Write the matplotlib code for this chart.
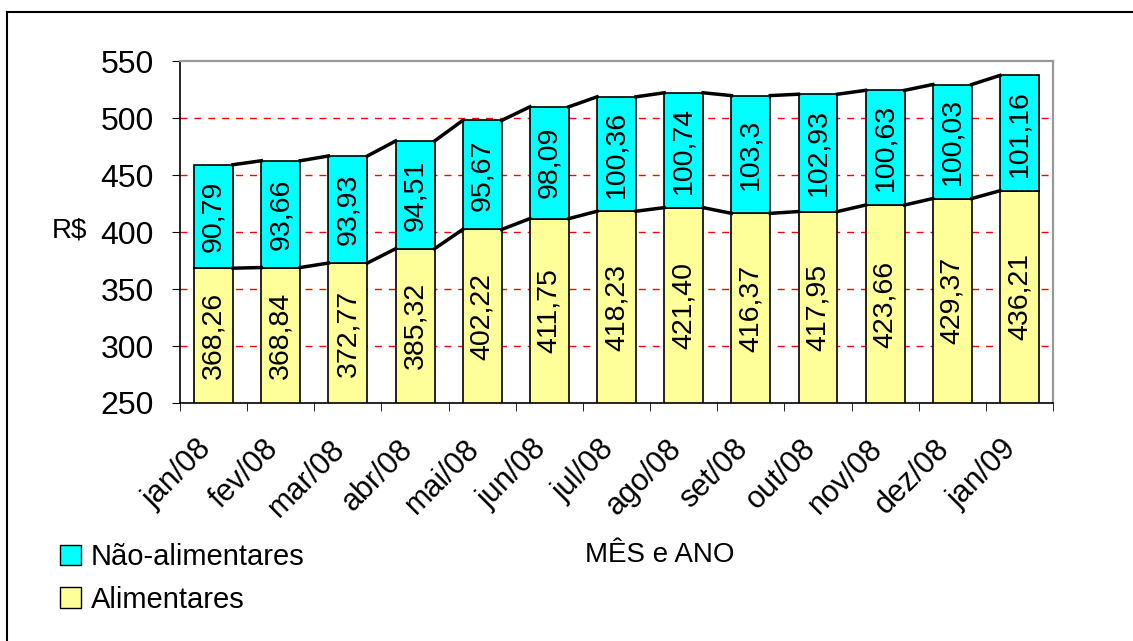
import numpy as np
import matplotlib.pyplot as plt
import matplotlib.transforms as mtransforms
from matplotlib.patches import Patch
from matplotlib.lines import Line2D

meses = ["jan/08", "fev/08", "mar/08", "abr/08", "mai/08", "jun/08", "jul/08",
         "ago/08", "set/08", "out/08", "nov/08", "dez/08", "jan/09"]
alimentares = np.array([368.26, 368.84, 372.77, 385.32, 402.22, 411.75, 418.23,
                        421.40, 416.37, 417.95, 423.66, 429.37, 436.21])
nao_alimentares = np.array([90.79, 93.66, 93.93, 94.51, 95.67, 98.09, 100.36,
                            100.74, 103.3, 102.93, 100.63, 100.03, 101.16])
# rotulos como aparecem no grafico (103,3 sem zero final)
rot_alim = ["368,26", "368,84", "372,77", "385,32", "402,22", "411,75", "418,23",
            "421,40", "416,37", "417,95", "423,66", "429,37", "436,21"]
rot_nao = ["90,79", "93,66", "93,93", "94,51", "95,67", "98,09", "100,36",
           "100,74", "103,3", "102,93", "100,63", "100,03", "101,16"]

plt.rcParams["font.family"] = ["Liberation Sans", "DejaVu Sans"]

fig = plt.figure(figsize=(11.33, 6.41), dpi=100)
ax = fig.add_axes([0.1589, 0.3713, 0.9294 - 0.1589, 0.9048 - 0.3713])

x = np.arange(len(meses))
w = 0.58
base = 250
total = alimentares + nao_alimentares

ax.bar(x, alimentares - base, w, bottom=base, color="#FFFF99", edgecolor="black", lw=1.2, zorder=3)
ax.bar(x, nao_alimentares, w, bottom=alimentares, color="#00FFFF", edgecolor="black", lw=1.2, zorder=3)

# linhas de serie entre as barras
for i in range(len(x) - 1):
    xs = [x[i] + w / 2, x[i + 1] - w / 2]
    ax.plot(xs, [alimentares[i], alimentares[i + 1]], color="black", lw=2.5, zorder=4)
    ax.plot(xs, [total[i], total[i + 1]], color="black", lw=2.5, zorder=4)

for i in range(len(x)):
    ax.text(x[i], (base + alimentares[i]) / 2, rot_alim[i], rotation=90,
            ha="center", va="center", fontsize=20.5, zorder=5)
    ax.text(x[i], (alimentares[i] + total[i]) / 2, rot_nao[i], rotation=90,
            ha="center", va="center", fontsize=20.5, zorder=5)

ax.set_xlim(-0.5, len(x) - 0.5)
ax.set_ylim(250, 550)
ax.set_yticks(np.arange(250, 551, 50))
ax.tick_params(axis="y", labelsize=23, direction="out", length=6, pad=13, color="black")
ax.set_xticks(x)
ax.set_xticklabels(meses, rotation=45, ha="right", va="center", rotation_mode="anchor", fontsize=22)
ax.tick_params(axis="x", which="major", length=0, pad=30)
desloc = mtransforms.ScaledTranslation(-7 / 100, 0, fig.dpi_scale_trans)
for lbl in ax.get_xticklabels():
    lbl.set_transform(lbl.get_transform() + desloc)
ax.set_xticks(np.arange(-0.5, len(x), 1), minor=True)
ax.tick_params(axis="x", which="minor", length=6, direction="out", color="black")

for yv in [300, 350, 400, 450, 500]:
    ax.axhline(yv, color="red", ls=(0, (5, 5)), lw=1, zorder=1)

ax.spines["top"].set_color("#999999")
ax.spines["right"].set_color("#999999")
ax.spines["top"].set_linewidth(1.6)
ax.spines["right"].set_linewidth(1.6)
ax.spines["left"].set_linewidth(1.2)
ax.spines["bottom"].set_linewidth(1.2)

fig.text(69 / 1133, 1 - 230 / 641, "R$", fontsize=20, ha="center", va="center")
fig.text(660 / 1133, 1 - 555 / 641, "MÊS e ANO", fontsize=20, ha="center", va="center")

handles = [Patch(facecolor="#00FFFF", edgecolor="black"),
           Patch(facecolor="#FFFF99", edgecolor="black")]
fig.legend(handles, ["Não-alimentares", "Alimentares"], loc="center left",
           bbox_to_anchor=(0.030, 1 - 578.5 / 641), frameon=False, fontsize=21,
           handlelength=0.7, handleheight=0.7, handletextpad=0.35, labelspacing=0.5)

# borda externa: so topo e lado esquerdo
y_topo = 1 - 12 / 641
x_esq = 7 / 1133
fig.lines.append(Line2D([x_esq, 1.0], [y_topo, y_topo], transform=fig.transFigure, color="black", lw=1.5))
fig.lines.append(Line2D([x_esq, x_esq], [0.0, y_topo], transform=fig.transFigure, color="black", lw=1.5))

fig.savefig("out.png", dpi=100)
